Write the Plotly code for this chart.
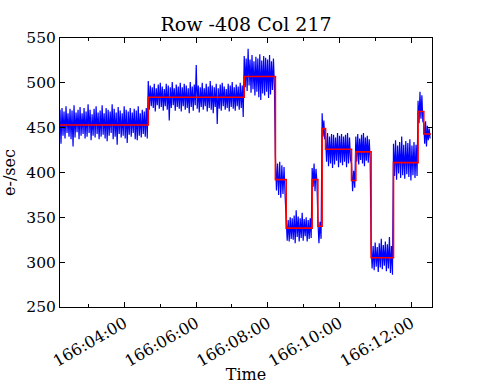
import plotly.graph_objects as go
import pandas as pd

# Segment boundaries (times) and fitted levels (red step line)
seg_bounds = ["2010-06-15 02:12:32", "2010-06-15 04:40:08", "2010-06-15 07:20:35",
              "2010-06-15 08:12:43", "2010-06-15 08:30:47", "2010-06-15 09:14:13",
              "2010-06-15 09:23:46", "2010-06-15 09:30:54", "2010-06-15 09:36:36",
              "2010-06-15 10:20:02", "2010-06-15 10:27:14", "2010-06-15 10:52:48",
              "2010-06-15 11:30:14", "2010-06-15 12:11:20", "2010-06-15 12:20:53",
              "2010-06-15 12:32:56"]
seg_levels = [453, 484, 507, 392, 338, 392, 340, 449, 426, 391, 423, 305, 411, 468, 443]

# Blue signal envelope (upper / lower excursions) per segment
hi_1 = [470, 472, 468, 474, 466, 471, 469, 475, 467, 470, 473, 466, 472, 468, 476, 470, 465, 471, 474, 467, 469, 475,
        466, 472, 470, 468, 476, 471, 467, 473, 469, 466, 474, 470, 468, 472, 467, 471, 469, 474, 466, 470, 468, 472]
lo_1 = [432, 441, 438, 444, 440, 437, 429, 439, 445, 437, 441, 443, 438, 440, 444, 436, 441, 439, 443, 437, 440, 442,
        438, 435, 441, 444, 437, 440, 431, 443, 439, 441, 438, 433, 442, 440, 444, 437, 436, 441, 439, 443, 440, 438]
hi_2 = [502, 497, 495, 499, 494, 498, 500, 496, 493, 499, 497, 495, 501, 494, 498, 496, 500, 495, 499, 497, 494, 501,
        496, 498, 520, 497, 495, 500, 494, 499, 496, 502, 497, 495, 499, 494, 498, 500, 496, 493, 499, 497, 501, 495,
        498, 496, 500, 497]
lo_2 = [470, 474, 472, 468, 475, 471, 473, 469, 474, 470, 458, 472, 475, 469, 473, 471, 468, 474, 470, 472, 466, 473,
        469, 475, 471, 467, 473, 470, 474, 468, 472, 470, 466, 473, 454, 471, 469, 474, 470, 472, 468, 473, 471, 469,
        474, 470, 472, 462]
hi_3 = [530, 527, 538, 526, 531, 524, 529, 527, 532, 525, 530, 528, 526, 531, 524, 527]
lo_3 = [495, 491, 497, 489, 493, 486, 490, 484, 481, 488, 486, 490, 483, 487, 492, 496]
hi_4 = [419, 410, 412, 408, 406]
lo_4 = [380, 375, 372, 376, 374]
hi_5 = [348, 347, 350, 349, 352, 358, 351, 349, 355, 348, 350, 347, 349]
lo_5 = [324, 323, 326, 325, 321, 328, 323, 327, 324, 329, 323, 326, 327]
hi_6 = [405, 410, 404]
lo_6 = [384, 379, 390]
hi_7 = [347, 345]
lo_7 = [321, 326]
hi_8 = [466, 458]
lo_8 = [440, 437]
hi_9 = [441, 444, 440, 443, 442, 439, 444, 441, 443, 440, 442, 444, 439]
lo_9 = [412, 407, 410, 405, 409, 413, 406, 411, 408, 412, 406, 410, 414]
hi_10 = [410, 402]
lo_10 = [379, 383]
hi_11 = [440, 443, 438, 442, 444, 439, 441, 437]
lo_11 = [412, 409, 414, 410, 407, 413, 411, 415]
hi_12 = [320, 318, 322, 317, 321, 326, 319, 323, 320, 328, 318]
lo_12 = [293, 291, 295, 289, 294, 292, 296, 290, 293, 288, 286]
hi_13 = [432, 436, 430, 434, 440, 431, 435, 433, 437, 430, 434, 431]
lo_13 = [396, 392, 399, 394, 397, 393, 398, 395, 391, 397, 394, 396]
hi_14 = [480, 490, 486]
lo_14 = [455, 460, 457]
hi_15 = [455, 457, 452, 449]
lo_15 = [432, 429, 436, 438]

his = [hi_1, hi_2, hi_3, hi_4, hi_5, hi_6, hi_7, hi_8, hi_9, hi_10, hi_11, hi_12, hi_13, hi_14, hi_15]
los = [lo_1, lo_2, lo_3, lo_4, lo_5, lo_6, lo_7, lo_8, lo_9, lo_10, lo_11, lo_12, lo_13, lo_14, lo_15]

bounds = pd.to_datetime(seg_bounds)
bx, by = [], []
for i, (h, l) in enumerate(zip(his, los)):
    vals = []
    for a, b in zip(h, l):
        vals += [a, b]
    t0, t1 = bounds[i], bounds[i + 1]
    n = len(vals)
    for k, v in enumerate(vals):
        bx.append(t0 + (t1 - t0) * (k / n))
        by.append(v)

rx = list(bounds)
ry = seg_levels + [seg_levels[-1]]

fig = go.Figure()
fig.add_trace(go.Scatter(x=bx, y=by, mode="lines", line=dict(color="#0000ff", width=1.2, simplify=False),
                         showlegend=False, hoverinfo="skip"))
fig.add_trace(go.Scatter(x=rx, y=ry, mode="lines", line=dict(color="#ff0000", width=1.6, shape="hv"),
                         showlegend=False, hoverinfo="skip"))

font = "DejaVu Serif"
fig.update_layout(
    width=480, height=384,
    margin=dict(l=60, r=48, t=38, b=77, autoexpand=False),
    paper_bgcolor="white", plot_bgcolor="white",
    font=dict(family=font, size=15.5, color="black"),
    title=dict(text="Row -408 Col 217", x=0.5, xref="paper", y=1 - 24 / 384, yref="container",
               xanchor="center", yanchor="middle", font=dict(family=font, size=19, color="black")),
    xaxis=dict(type="date", range=["2010-06-15 02:12:32", "2010-06-15 12:34:37"], automargin=False,
               tick0="2010-06-15 00:00:00", dtick=7200000, tickformat="%j:%H:%M",
               tickangle=-30, ticks="inside", ticklen=5, tickcolor="black", tickfont=dict(size=16),
               minor=dict(dtick=3600000, tick0="2010-06-15 00:00:00", ticks="inside", ticklen=3,
                          tickcolor="black", showgrid=False),
               showline=True, linecolor="black", linewidth=1, mirror="allticks", showgrid=False,
               zeroline=False, title=dict(text="Time", font=dict(size=16), standoff=4)),
    yaxis=dict(range=[250, 550], dtick=50, ticks="inside", ticklen=5, tickcolor="black", automargin=False,
               showline=True, linecolor="black", linewidth=1, mirror="allticks", showgrid=False,
               zeroline=False, title=dict(text="e-/sec", font=dict(size=16), standoff=6)),
)
fig.write_html("out.html", config={"displayModeBar": False},
               post_script="document.body.style.margin='0px';")
